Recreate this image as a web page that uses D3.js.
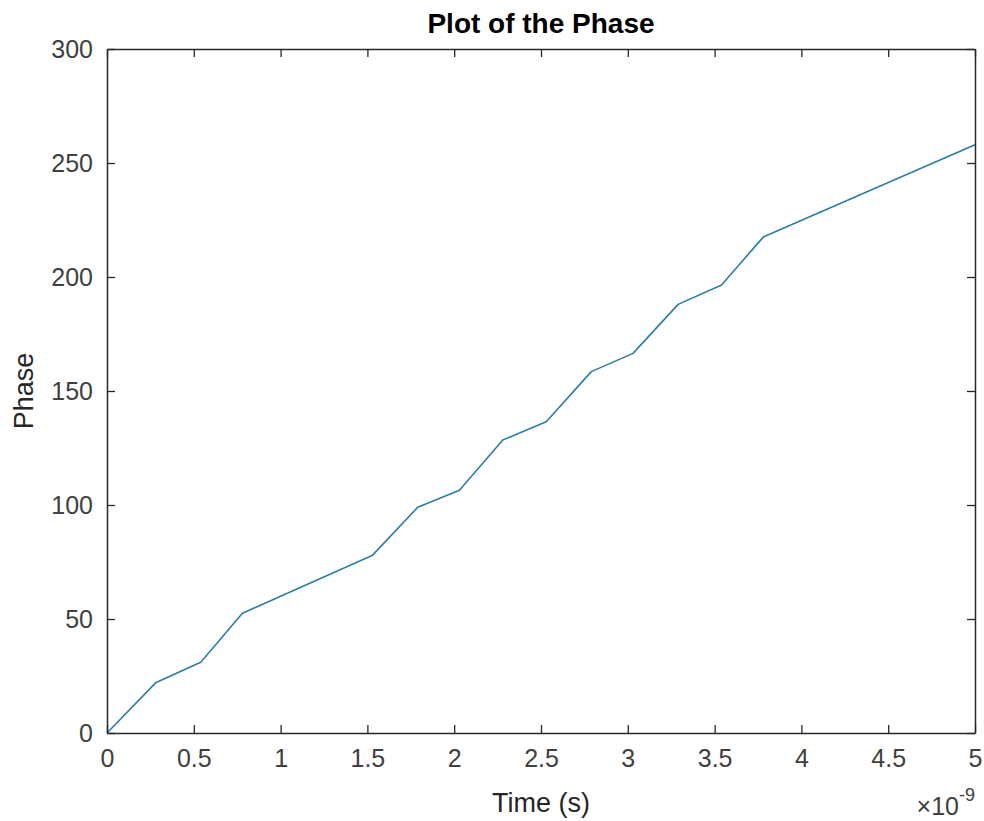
<!DOCTYPE html>
<html>
<head>
<meta charset="utf-8">
<script src="https://cdn.jsdelivr.net/npm/d3@7"></script>
<style>
  html, body { margin: 0; padding: 0; background: #fff; }
  svg { display: block; }
  text { font-family: "Liberation Sans", Arial, Helvetica, sans-serif; }
</style>
</head>
<body>
<svg id="chart" width="984" height="821"></svg>
<script>
// Data (time in units of 1e-9 s, phase)
const timeNs = [0, 0.28, 0.54, 0.78, 1.53, 1.79, 2.03, 2.28, 2.53, 2.79, 3.03, 3.29, 3.54, 3.78, 5];
const phase  = [0, 22, 31, 52.5, 78, 99, 106.5, 128.5, 136.5, 158.5, 166.5, 188, 196.5, 217.5, 258];
const xTicks = [0, 0.5, 1, 1.5, 2, 2.5, 3, 3.5, 4, 4.5, 5];
const yTicks = [0, 50, 100, 150, 200, 250, 300];
const titleText = "Plot of the Phase";
const xLabel = "Time (s)";
const yLabel = "Phase";

const svg = d3.select("#chart");
const margin = { left: 107, top: 49, right: 984 - 975, bottom: 821 - 733 };
const W = 984, H = 821;
const x = d3.scaleLinear().domain([0, 5]).range([margin.left, W - margin.right]);
const y = d3.scaleLinear().domain([0, 300]).range([H - margin.bottom, margin.top]);

const axisColor = "#262626";
const tickLen = 8;

// Line
const data = timeNs.map((t, i) => ({ t, p: phase[i] }));
svg.append("path")
  .datum(data)
  .attr("fill", "none")
  .attr("stroke", "#2f7ca3")
  .attr("stroke-width", 1.6)
  .attr("stroke-linejoin", "round")
  .attr("d", d3.line().x(d => x(d.t)).y(d => y(d.p)));

function styleAxis(g) {
  g.selectAll("path.domain").attr("stroke", axisColor).attr("stroke-width", 1.5);
  g.selectAll(".tick line").attr("stroke", axisColor).attr("stroke-width", 1.3);
  g.selectAll(".tick text").attr("fill", "#404040").style("font-size", "25px")
    .style("font-family", '"Liberation Sans", Arial, Helvetica, sans-serif');
}

const xAxis = d3.axisBottom(x).tickValues(xTicks).tickFormat(d3.format("")).tickSizeInner(-tickLen).tickSizeOuter(0).tickPadding(16);
svg.append("g").attr("transform", `translate(0,${y(0)})`).call(xAxis).call(styleAxis);

const xAxisTop = d3.axisTop(x).tickValues(xTicks).tickFormat("").tickSizeInner(-tickLen).tickSizeOuter(0);
svg.append("g").attr("transform", `translate(0,${y(300)})`).call(xAxisTop).call(styleAxis);

const yAxis = d3.axisLeft(y).tickValues(yTicks).tickFormat(d3.format("")).tickSizeInner(-tickLen).tickSizeOuter(0).tickPadding(14);
svg.append("g").attr("transform", `translate(${x(0)},0)`).call(yAxis).call(styleAxis);

const yAxisRight = d3.axisRight(y).tickValues(yTicks).tickFormat("").tickSizeInner(-tickLen).tickSizeOuter(0);
svg.append("g").attr("transform", `translate(${x(5)},0)`).call(yAxisRight).call(styleAxis);

// Title
svg.append("text")
  .attr("x", (x(0) + x(5)) / 2).attr("y", 33)
  .attr("text-anchor", "middle")
  .style("font-size", "28px").style("font-weight", "bold").attr("fill", "#000")
  .text(titleText);

// X label
svg.append("text")
  .attr("x", (x(0) + x(5)) / 2).attr("y", 812)
  .attr("text-anchor", "middle")
  .style("font-size", "27px").attr("fill", "#262626")
  .text(xLabel);

// Y label
svg.append("text")
  .attr("transform", `translate(33,${(y(0) + y(300)) / 2}) rotate(-90)`)
  .attr("text-anchor", "middle")
  .style("font-size", "27px").attr("fill", "#262626")
  .text(yLabel);

// Exponent label ×10^-9
const expo = svg.append("text")
  .attr("x", 975).attr("y", 815)
  .attr("text-anchor", "end")
  .style("font-size", "25px").attr("fill", "#404040");
expo.append("tspan").text("\u00d710");
expo.append("tspan").attr("dy", -14).style("font-size", "18px").text("-9");
</script>
</body>
</html>
